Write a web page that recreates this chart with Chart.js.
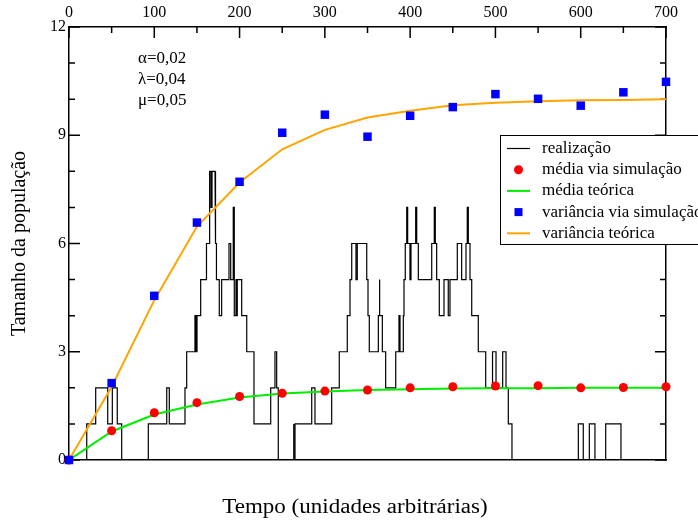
<!DOCTYPE html>
<html>
<head>
<meta charset="utf-8">
<script src="https://cdn.jsdelivr.net/npm/chart.js@4.4.1/dist/chart.umd.min.js"></script>
<style>
  body { margin: 0; background: #fff; }
  canvas { display: block; }
</style>
</head>
<body>
<canvas id="popChart" width="698" height="522"></canvas>
<script>
// tempos de amostragem (médias e variâncias)
const tempos = [0, 50, 100, 150, 200, 250, 300, 350, 400, 450, 500, 550, 600, 650, 700];
const mediaSim = [0, 0.81, 1.31, 1.59, 1.76, 1.85, 1.91, 1.94, 2.00, 2.03, 2.05, 2.06, 2.00, 2.01, 2.03];
const mediaTeo = [0, 0.79, 1.26, 1.54, 1.73, 1.84, 1.90, 1.94, 1.96, 1.98, 1.99, 1.99, 2.00, 2.00, 2.00];
const varSim = [0, 2.13, 4.55, 6.58, 7.71, 9.07, 9.57, 8.96, 9.54, 9.78, 10.14, 10.01, 9.82, 10.19, 10.48];
const varTeo = [0, 2.03, 4.43, 6.47, 7.69, 8.61, 9.15, 9.49, 9.68, 9.83, 9.90, 9.94, 9.97, 9.98, 10.00];

// uma realização do processo (instante do salto, novo tamanho)
const realT = [
  0, 20.8, 31.3, 45.4, 50.8, 56.6, 61.8, 93.0, 114.6, 117.6,
  136.0, 138.0, 147.7, 148.9, 150.1, 154.4, 161.2, 164.5, 165.1, 166.5,
  167.7, 171.2, 172.1, 172.9, 176.2, 179.0, 187.6, 189.6, 192.6, 193.8,
  195.8, 196.4, 197.3, 202.5, 208.4, 216.9, 236.5, 241.5, 243.5, 245.4,
  263.0, 263.8, 265.0, 284.6, 288.4, 308.0, 316.9, 326.3, 329.5, 331.5,
  336.5, 338.0, 349.1, 350.6, 352.1, 362.7, 363.5, 364.6, 367.4, 371.3,
  383.1, 386.9, 388.1, 392.0, 392.8, 394.3, 396.0, 397.1, 399.8, 401.0,
  406.5, 407.7, 409.6, 425.3, 428.3, 429.5, 431.1, 434.2, 439.7, 444.7,
  446.7, 455.3, 460.4, 465.5, 467.0, 468.2, 470.2, 472.2, 479.9, 488.6,
  496.6, 500.7, 508.5, 512.4, 515.1, 519.4, 597.2, 603.0, 610.1, 616.7,
  629.3, 647.2, 700
];
const realN = [
  0, 1, 2, 1, 2, 1, 0, 1, 2, 1,
  2, 3, 4, 3, 4, 5, 6, 7, 8, 7,
  8, 7, 6, 5, 4, 5, 6, 5, 7, 4,
  5, 4, 5, 4, 3, 1, 2, 3, 2, 0,
  1, 0, 1, 2, 1, 2, 3, 4, 5, 6,
  5, 6, 5, 4, 3, 4, 5, 4, 3, 2,
  3, 4, 3, 4, 5, 6, 7, 6, 5, 6,
  7, 6, 5, 6, 7, 6, 5, 4, 5, 4,
  5, 6, 5, 6, 7, 6, 5, 4, 3, 2,
  3, 2, 3, 2, 1, 0, 1, 0, 1, 0,
  1, 0, 0
];

const xTicks = [0, 100, 200, 300, 400, 500, 600, 700];
const yTicks = [0, 3, 6, 9, 12];
const params = ['α=0,02', 'λ=0,04', 'μ=0,05'];

const pts = (xs, ys) => xs.map((x, i) => ({ x: x, y: ys[i] }));
// held value until next jump: [t_i, N_i] ... drawn as steps
const stepPts = (xs, ys) => {
  const out = [];
  xs.forEach((x, i) => {
    if (i > 0) out.push({ x: x, y: ys[i - 1] });
    out.push({ x: x, y: ys[i] });
  });
  return out;
};
const SERIF = "'Liberation Serif', 'Times New Roman', serif";

Chart.defaults.font.family = SERIF;
Chart.defaults.color = '#000';

const legendItems = [
  { text: 'realização', kind: 'line', color: '#000000' },
  { text: 'média via simulação', kind: 'circle', color: '#ff0000' },
  { text: 'média teórica', kind: 'line', color: '#00ee00' },
  { text: 'variância via simulação', kind: 'square', color: '#0000ff' },
  { text: 'variância teórica', kind: 'line', color: '#ffa500' }
];

// ticks inward, texts, legend box
const decorations = {
  id: 'decorations',
  beforeDatasetsDraw(chart) {
    const { ctx, chartArea, scales } = chart;
    ctx.save();
    ctx.strokeStyle = '#000';
    ctx.lineWidth = 1.5;
    ctx.beginPath();
    for (let v = 0; v <= 700; v += 50) {
      const px = scales.xTop.getPixelForValue(v);
      const len = v % 100 === 0 ? 11 : 6;
      ctx.moveTo(px, chartArea.top);
      ctx.lineTo(px, chartArea.top + len);
    }
    for (let v = 0; v <= 12; v++) {
      const py = scales.y.getPixelForValue(v);
      const len = v % 3 === 0 ? 11 : 6;
      ctx.moveTo(chartArea.left, py);
      ctx.lineTo(chartArea.left + len, py);
      ctx.moveTo(chartArea.right, py);
      ctx.lineTo(chartArea.right - len, py);
    }
    ctx.stroke();
    ctx.restore();
  },
  afterDraw(chart) {
    const { ctx } = chart;
    ctx.save();
    ctx.fillStyle = '#000';
    ctx.font = '17px ' + SERIF;
    ctx.textBaseline = 'middle';
    ctx.textAlign = 'left';
    params.forEach((p, i) => ctx.fillText(p, 138, 59 + i * 21));

    ctx.save();
    ctx.font = '20px ' + SERIF;
    ctx.textAlign = 'center';
    ctx.translate(355, 508);
    ctx.scale(1.15, 1);
    ctx.fillText('Tempo (unidades arbitrárias)', 0, 0);
    ctx.restore();

    // legend
    const bx = 500, by = 135, bw = 240, bh = 109;
    ctx.fillStyle = '#fff';
    ctx.fillRect(bx, by, bw, bh);
    ctx.strokeStyle = '#000';
    ctx.lineWidth = 1;
    ctx.strokeRect(bx + 0.5, by + 0.5, bw, bh);
    ctx.font = '17px ' + SERIF;
    ctx.textAlign = 'left';
    legendItems.forEach((it, i) => {
      const y = 148.5 + i * 21.2;
      if (it.kind === 'line') {
        ctx.strokeStyle = it.color;
        ctx.lineWidth = it.color === '#000000' ? 1.2 : 2;
        ctx.beginPath();
        ctx.moveTo(507, y);
        ctx.lineTo(530, y);
        ctx.stroke();
      } else if (it.kind === 'circle') {
        ctx.fillStyle = it.color;
        ctx.beginPath();
        ctx.arc(518.5, y, 4.5, 0, Math.PI * 2);
        ctx.fill();
      } else {
        ctx.fillStyle = it.color;
        ctx.fillRect(514.5, y - 4, 8, 8);
      }
      ctx.fillStyle = '#000';
      ctx.fillText(it.text, 542, y);
    });
    ctx.restore();
  }
};

const ctx = document.getElementById('popChart').getContext('2d');

new Chart(ctx, {
  type: 'line',
  data: {
    datasets: [
      {
        label: 'variância via simulação',
        data: pts(tempos, varSim),
        showLine: false,
        pointStyle: 'rect',
        pointRadius: 6,
        pointBackgroundColor: '#0000ff',
        pointBorderWidth: 0,
        order: 1,
        clip: false
      },
      {
        label: 'média via simulação',
        data: pts(tempos, mediaSim),
        showLine: false,
        pointRadius: 4.5,
        pointBackgroundColor: '#ff0000',
        pointBorderWidth: 0,
        order: 2,
        clip: false
      },
      {
        label: 'média teórica',
        data: pts(tempos, mediaTeo),
        borderColor: '#00ee00',
        borderWidth: 2,
        pointRadius: 0,
        tension: 0,
        order: 3
      },
      {
        label: 'variância teórica',
        data: pts(tempos, varTeo),
        borderColor: '#ffa500',
        borderWidth: 2,
        pointRadius: 0,
        tension: 0,
        order: 4
      },
      {
        label: 'realização',
        data: stepPts(realT, realN),
        borderColor: '#000',
        borderWidth: 1.2,
        pointRadius: 0,
        tension: 0,
        order: 5
      }
    ]
  },
  options: {
    responsive: false,
    animation: false,
    events: [],
    layout: { padding: 0 },
    plugins: {
      legend: { display: false },
      tooltip: { enabled: false }
    },
    scales: {
      x: {
        type: 'linear',
        position: 'bottom',
        min: 0,
        max: 700,
        ticks: { display: false },
        grid: { display: false, drawTicks: false },
        border: { color: '#000', width: 1.5 },
        afterFit: (s) => { s.height = 62; }
      },
      xTop: {
        type: 'linear',
        position: 'top',
        min: 0,
        max: 700,
        afterBuildTicks: (s) => { s.ticks = xTicks.map(v => ({ value: v })); },
        ticks: { font: { size: 16 }, color: '#000', padding: 5, maxRotation: 0 },
        grid: { display: false, drawTicks: false },
        border: { color: '#000', width: 1.5 },
        afterFit: (s) => { s.height = 27; }
      },
      y: {
        position: 'left',
        min: 0,
        max: 12,
        afterBuildTicks: (s) => { s.ticks = yTicks.map(v => ({ value: v })); },
        ticks: { font: { size: 16 }, color: '#000', padding: 3 },
        grid: { display: false, drawTicks: false },
        border: { color: '#000', width: 1.5 },
        title: {
          display: true,
          text: 'Tamanho da população',
          font: { size: 20 },
          color: '#000',
          padding: { top: 8, bottom: 0 }
        },
        afterFit: (s) => { s.width = 69; }
      },
      yRight: {
        position: 'right',
        min: 0,
        max: 12,
        ticks: { display: false },
        grid: { display: false, drawTicks: false },
        border: { color: '#000', width: 1.5 },
        afterFit: (s) => { s.width = 32; }
      }
    }
  },
  plugins: [decorations]
});
</script>
</body>
</html>
